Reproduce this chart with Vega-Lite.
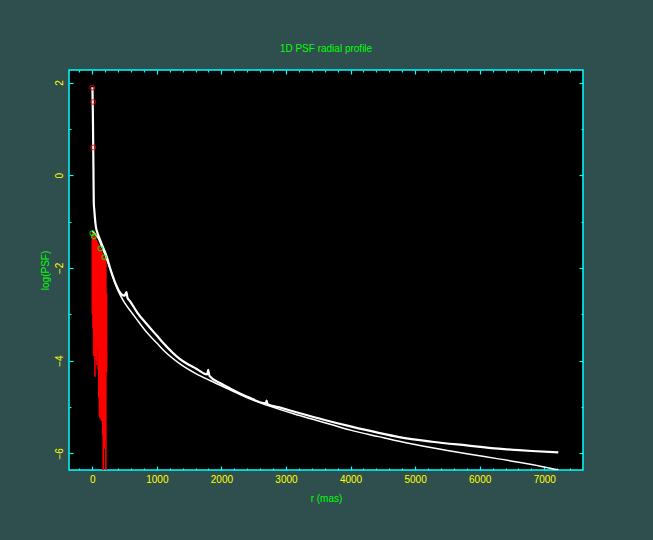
{
  "$schema": "https://vega.github.io/schema/vega-lite/v6.json",
  "width": 514,
  "height": 400,
  "autosize": {"type": "none"},
  "padding": {"left": 69, "top": 70, "right": 70, "bottom": 70},
  "background": "#2F4F4F",
  "title": {"text": "1D PSF radial profile", "color": "#00FF00", "font": "Liberation Sans", "fontSize": 10, "fontWeight": "normal", "anchor": "middle", "baseline": "alphabetic", "offset": 7},
  "datasets": {
    "measured": [
      {"r": 3, "logpsf": 1.9}, {"r": 10, "logpsf": 1.3}, {"r": 18, "logpsf": 0.2}, {"r": 24, "logpsf": -0.6},
      {"r": 32, "logpsf": -0.75}, {"r": 40, "logpsf": -0.9}, {"r": 55, "logpsf": -1.1}, {"r": 70, "logpsf": -1.2},
      {"r": 93, "logpsf": -1.29}, {"r": 150, "logpsf": -1.5}, {"r": 222, "logpsf": -1.75}, {"r": 275, "logpsf": -2.0},
      {"r": 350, "logpsf": -2.3}, {"r": 453, "logpsf": -2.57}, {"r": 500, "logpsf": -2.6}, {"r": 530, "logpsf": -2.52},
      {"r": 545, "logpsf": -2.64}, {"r": 587, "logpsf": -2.72}, {"r": 700, "logpsf": -2.97}, {"r": 843, "logpsf": -3.21},
      {"r": 1000, "logpsf": -3.46}, {"r": 1100, "logpsf": -3.62}, {"r": 1359, "logpsf": -3.97}, {"r": 1618, "logpsf": -4.18},
      {"r": 1780, "logpsf": -4.3}, {"r": 1795, "logpsf": -4.2}, {"r": 1815, "logpsf": -4.33}, {"r": 2000, "logpsf": -4.5},
      {"r": 2133, "logpsf": -4.6}, {"r": 2400, "logpsf": -4.78}, {"r": 2690, "logpsf": -4.92}, {"r": 2700, "logpsf": -4.86},
      {"r": 2715, "logpsf": -4.94}, {"r": 2900, "logpsf": -5.01}, {"r": 3204, "logpsf": -5.13}, {"r": 3600, "logpsf": -5.28},
      {"r": 4000, "logpsf": -5.42}, {"r": 4437, "logpsf": -5.56}, {"r": 4754, "logpsf": -5.65}, {"r": 5264, "logpsf": -5.75},
      {"r": 5800, "logpsf": -5.83}, {"r": 6292, "logpsf": -5.9}, {"r": 6806, "logpsf": -5.95}, {"r": 7218, "logpsf": -5.98}
    ],
    "model": [
      {"r": 0, "logpsf": -1.2}, {"r": 50, "logpsf": -1.28}, {"r": 100, "logpsf": -1.38}, {"r": 150, "logpsf": -1.55},
      {"r": 200, "logpsf": -1.72}, {"r": 275, "logpsf": -2.01}, {"r": 350, "logpsf": -2.32}, {"r": 420, "logpsf": -2.55},
      {"r": 500, "logpsf": -2.75}, {"r": 587, "logpsf": -2.92}, {"r": 700, "logpsf": -3.13}, {"r": 843, "logpsf": -3.39},
      {"r": 1000, "logpsf": -3.62}, {"r": 1100, "logpsf": -3.77}, {"r": 1359, "logpsf": -4.07}, {"r": 1618, "logpsf": -4.29},
      {"r": 1824, "logpsf": -4.43}, {"r": 2133, "logpsf": -4.63}, {"r": 2430, "logpsf": -4.82}, {"r": 2700, "logpsf": -4.96},
      {"r": 3200, "logpsf": -5.18}, {"r": 3700, "logpsf": -5.38}, {"r": 4000, "logpsf": -5.5}, {"r": 4437, "logpsf": -5.64},
      {"r": 4754, "logpsf": -5.74}, {"r": 5264, "logpsf": -5.88}, {"r": 5800, "logpsf": -6.01}, {"r": 6292, "logpsf": -6.12},
      {"r": 6806, "logpsf": -6.24}, {"r": 7218, "logpsf": -6.36}
    ],
    "noise": [
      {"r": 2, "top": -1.22, "bottom": -3.0}, {"r": 12, "top": -1.25, "bottom": -3.3}, {"r": 22, "top": -1.28, "bottom": -3.9},
      {"r": 32, "top": -1.3, "bottom": -3.5}, {"r": 42, "top": -1.33, "bottom": -4.35}, {"r": 52, "top": -1.36, "bottom": -3.9},
      {"r": 62, "top": -1.39, "bottom": -4.0}, {"r": 72, "top": -1.42, "bottom": -4.1}, {"r": 82, "top": -1.45, "bottom": -3.7},
      {"r": 92, "top": -1.48, "bottom": -4.2}, {"r": 102, "top": -1.51, "bottom": -4.8}, {"r": 112, "top": -1.54, "bottom": -5.2},
      {"r": 122, "top": -1.57, "bottom": -5.25}, {"r": 132, "top": -1.6, "bottom": -5.1}, {"r": 142, "top": -1.63, "bottom": -5.3},
      {"r": 152, "top": -1.66, "bottom": -5.2}, {"r": 162, "top": -1.7, "bottom": -5.6}, {"r": 170, "top": -1.73, "bottom": -6.4},
      {"r": 180, "top": -1.76, "bottom": -5.8}, {"r": 190, "top": -1.78, "bottom": -5.9}, {"r": 200, "top": -1.8, "bottom": -5.7},
      {"r": 211, "top": -1.85, "bottom": -6.4}, {"r": 222, "top": -2.55, "bottom": -4.25}
    ],
    "redpts": [
      {"r": 0, "logpsf": 1.89}, {"r": 15, "logpsf": 1.58}, {"r": 15, "logpsf": 0.6}
    ],
    "greenpts": [
      {"r": 0, "logpsf": -1.25}, {"r": 25, "logpsf": -1.32}, {"r": 125, "logpsf": -1.58}, {"r": 185, "logpsf": -1.77}
    ]
  },
  "resolve": {"axis": {"x": "independent", "y": "independent"}},
  "layer": [
    {
      "data": {"name": "noise"},
      "mark": {"type": "rule", "color": "#FF0000", "strokeWidth": 1.6, "clip": true},
      "encoding": {
        "x": {"field": "r", "type": "quantitative", "scale": {"domain": [-360, 7600], "nice": false, "zero": false},
              "axis": {"orient": "bottom", "title": "r (mas)", "format": "d", "values": [0, 1000, 2000, 3000, 4000, 5000, 6000, 7000], "tickSize": -4, "labelPadding": 8, "titlePadding": 9}},
        "y": {"field": "top", "type": "quantitative", "scale": {"domain": [-6.36, 2.27], "nice": false, "zero": false},
              "axis": {"orient": "left", "title": "log(PSF)", "format": "d", "values": [-6, -4, -2, 0, 2], "tickSize": -4, "labelPadding": 9, "labelAngle": -90, "labelAlign": "center", "labelBaseline": "bottom", "titlePadding": 4}},
        "y2": {"field": "bottom"}
      }
    },
    {
      "data": {"name": "model"},
      "mark": {"type": "line", "color": "white", "strokeWidth": 1.5, "clip": true, "interpolate": "monotone"},
      "encoding": {
        "x": {"field": "r", "type": "quantitative", "scale": {"domain": [-360, 7600], "nice": false, "zero": false},
              "axis": {"orient": "bottom", "title": null, "labels": false, "values": [-200, 200, 400, 600, 800, 1200, 1400, 1600, 1800, 2200, 2400, 2600, 2800, 3200, 3400, 3600, 3800, 4200, 4400, 4600, 4800, 5200, 5400, 5600, 5800, 6200, 6400, 6600, 6800, 7200, 7400], "tickSize": -2}},
        "y": {"field": "logpsf", "type": "quantitative", "scale": {"domain": [-6.36, 2.27], "nice": false, "zero": false},
              "axis": {"orient": "left", "title": null, "labels": false, "values": [-5, -3, -1, 1], "tickSize": -2}}
      }
    },
    {
      "data": {"name": "measured"},
      "mark": {"type": "line", "color": "white", "strokeWidth": 2.2, "clip": true, "interpolate": "monotone"},
      "encoding": {
        "x": {"field": "r", "type": "quantitative", "scale": {"domain": [-360, 7600], "nice": false, "zero": false},
              "axis": {"orient": "top", "title": null, "labels": false, "values": [0, 1000, 2000, 3000, 4000, 5000, 6000, 7000], "tickSize": -4}},
        "y": {"field": "logpsf", "type": "quantitative", "scale": {"domain": [-6.36, 2.27], "nice": false, "zero": false},
              "axis": {"orient": "right", "title": null, "labels": false, "values": [-6, -4, -2, 0, 2], "tickSize": -4}}
      }
    },
    {
      "data": {"name": "redpts"},
      "mark": {"type": "point", "shape": "circle", "filled": false, "color": "#FF0000", "size": 22, "strokeWidth": 1.2},
      "encoding": {
        "x": {"field": "r", "type": "quantitative", "scale": {"domain": [-360, 7600], "nice": false, "zero": false},
              "axis": {"orient": "top", "title": null, "labels": false, "values": [-200, 200, 400, 600, 800, 1200, 1400, 1600, 1800, 2200, 2400, 2600, 2800, 3200, 3400, 3600, 3800, 4200, 4400, 4600, 4800, 5200, 5400, 5600, 5800, 6200, 6400, 6600, 6800, 7200, 7400], "tickSize": -2}},
        "y": {"field": "logpsf", "type": "quantitative", "scale": {"domain": [-6.36, 2.27], "nice": false, "zero": false},
              "axis": {"orient": "right", "title": null, "labels": false, "values": [-5, -3, -1, 1], "tickSize": -2}}
      }
    },
    {
      "data": {"name": "greenpts"},
      "mark": {"type": "point", "shape": "circle", "filled": false, "color": "#00FF00", "size": 22, "strokeWidth": 1.2},
      "encoding": {
        "x": {"field": "r", "type": "quantitative", "scale": {"domain": [-360, 7600], "nice": false, "zero": false}, "axis": null},
        "y": {"field": "logpsf", "type": "quantitative", "scale": {"domain": [-6.36, 2.27], "nice": false, "zero": false}, "axis": null}
      }
    }
  ],
  "config": {
    "view": {"fill": "black", "stroke": "#00FFFF", "strokeWidth": 1.5},
    "axis": {"grid": false, "domain": false, "tickColor": "#00FFFF", "tickWidth": 1.2, "labelColor": "#FFFF00", "labelFont": "Liberation Sans", "labelFontSize": 10, "titleColor": "#00FF00", "titleFont": "Liberation Sans", "titleFontSize": 10, "titleFontWeight": "normal"}
  }
}
